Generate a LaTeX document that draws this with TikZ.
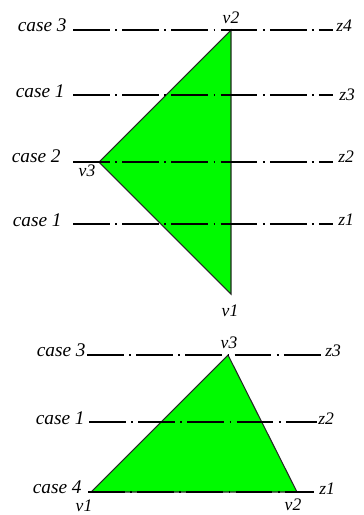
\documentclass[tikz,border=0pt]{standalone}
\usepackage{fontspec}
\setmainfont{Liberation Serif}
\definecolor{trigreen}{RGB}{0,250,0}
\begin{document}
\begin{tikzpicture}[x=0.02cm, y=-0.02cm,
  level/.style={line width=0.6pt, black,
                dash pattern=on 21pt off 3pt on 1pt off 3pt},
  face/.style={fill=trigreen, draw=black!85, line width=0.6pt},
  caselbl/.style={inner sep=0pt, anchor=base east, font=\fontsize{11}{13}\selectfont\itshape},
  zlbl/.style={inner sep=0pt, anchor=base west, font=\fontsize{10}{12}\selectfont\itshape},
  vlbl/.style={inner sep=0pt, font=\fontsize{10}{12}\selectfont\itshape}
]
  \useasboundingbox (0,0) rectangle (363,515);

  % ── Upper triangle ─────────────────────────────────────────────────────
  \coordinate (tv1) at (231,294);
  \coordinate (tv2) at (231,30);
  \coordinate (tv3) at (99,162);
  \filldraw[face] (tv1) -- (tv2) -- (tv3) -- cycle;

  \coordinate (ta4) at (73,30);   \coordinate (tb4) at (333,30);
  \coordinate (ta3) at (73,95);   \coordinate (tb3) at (333,95);
  \coordinate (ta2) at (73,162);  \coordinate (tb2) at (333,162);
  \coordinate (ta1) at (73,224);  \coordinate (tb1) at (333,224);

  \draw[level] (ta4) -- (tb4);
  \draw[level] (ta3) -- (tb3);
  \draw[level] (ta2) -- (tb2);
  \draw[level] (ta1) -- (tb1);

  \node[caselbl] (tc4) at (67,31)  {case 3};
  \node[caselbl] (tc3) at (65,97)  {case 1};
  \node[caselbl] (tc2) at (61,162) {case 2};
  \node[caselbl] (tc1) at (62,226) {case 1};

  \node[zlbl] (tz4) at (336,31)  {z4};
  \node[zlbl] (tz3) at (339,100) {z3};
  \node[zlbl] (tz2) at (338,162) {z2};
  \node[zlbl] (tz1) at (338,225) {z1};

  \node[vlbl] (ltv2) at (231,18)  {v2};
  \node[vlbl] (ltv3) at (87,171)  {v3};
  \node[vlbl] (ltv1) at (230,311) {v1};

  % ── Lower triangle ─────────────────────────────────────────────────────
  \coordinate (bv1) at (91,492);
  \coordinate (bv2) at (297,492);
  \coordinate (bv3) at (228,355);
  \filldraw[face] (bv1) -- (bv2) -- (bv3) -- cycle;

  \coordinate (ba3) at (87,355);  \coordinate (bb3) at (321,355);
  \coordinate (ba2) at (89,422);  \coordinate (bb2) at (317,422);
  \coordinate (ba1) at (88,492);  \coordinate (bb1) at (314,492);

  \draw[level] (ba3) -- (bb3);
  \draw[level] (ba2) -- (bb2);
  \draw[level] (ba1) -- (bb1);

  \node[caselbl] (bc3) at (86,356) {case 3};
  \node[caselbl] (bc2) at (85,424) {case 1};
  \node[caselbl] (bc1) at (82,493) {case 4};

  \node[zlbl] (bz3) at (325,356) {z3};
  \node[zlbl] (bz2) at (318,424) {z2};
  \node[zlbl] (bz1) at (319,494) {z1};

  \node[vlbl] (lbv3) at (229,343) {v3};
  \node[vlbl] (lbv1) at (84,506)  {v1};
  \node[vlbl] (lbv2) at (293,505) {v2};
\end{tikzpicture}
\end{document}
